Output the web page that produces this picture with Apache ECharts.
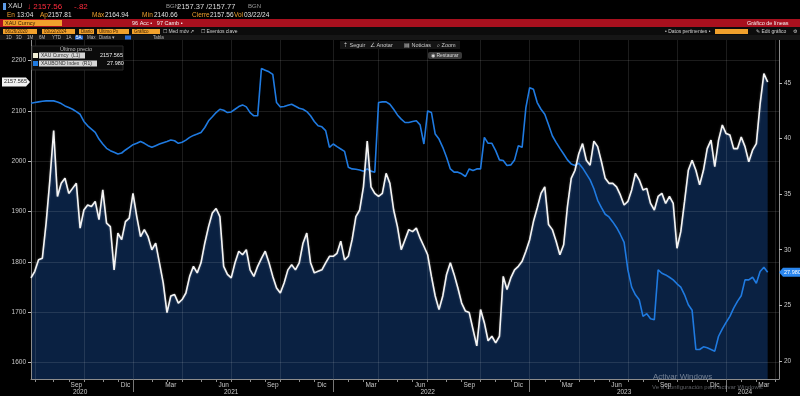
<!DOCTYPE html>
<html>
<head>
<meta charset="utf-8">
<script src="https://cdn.jsdelivr.net/npm/echarts@6/dist/echarts.min.js"></script>
<style>
html,body{margin:0;padding:0;background:#000;}
#chart{width:800px;height:396px;}
</style>
</head>
<body>
<div id="chart"></div>
<script>
// XAU Curncy, cierre semanal (L1)
let goldValues = [1768,1781,1804,1807,1877,1963,2061,1930,1956,1966,
    1936,1946,1956,1867,1903,1913,1910,1920,1884,1943,
    1877,1870,1784,1857,1844,1880,1887,1936,1890,1850,
    1864,1850,1824,1837,1798,1758,1699,1732,1735,1718,
    1725,1738,1771,1791,1778,1798,1837,1870,1897,1906,
    1890,1791,1775,1768,1798,1821,1814,1824,1784,1771,
    1791,1807,1821,1798,1771,1748,1738,1758,1784,1794,
    1784,1798,1837,1857,1798,1778,1781,1784,1798,1811,
    1811,1817,1841,1804,1811,1844,1890,1903,1949,2040,
    1949,1936,1930,1936,1976,1956,1903,1870,1824,1844,
    1864,1860,1867,1847,1831,1814,1771,1732,1705,1732,
    1775,1798,1775,1748,1718,1702,1699,1666,1633,1705,
    1679,1643,1652,1639,1652,1771,1745,1768,1784,1791,
    1801,1821,1844,1880,1907,1936,1949,1874,1864,1841,
    1814,1834,1910,1966,1982,2015,2035,2002,1992,2040,
    2029,1999,1966,1956,1956,1949,1933,1913,1920,1943,
    1976,1963,1943,1946,1916,1903,1930,1936,1916,1930,
    1916,1827,1860,1920,1982,2002,1982,1953,1982,2025,
    2042,1989,2042,2072,2055,2052,2025,2025,2048,2029,
    1999,2022,2035,2114,2174,2157.565];

// indice del eje derecho (R1)
let indexValues = [43.16,43.22,43.28,43.34,43.37,43.37,43.37,43.28,43.13,42.92,
    42.77,42.62,42.41,42.17,41.52,41.13,40.84,40.54,39.94,39.5,
    39.11,38.9,38.75,38.6,38.69,38.96,39.2,39.44,39.56,39.73,
    39.56,39.35,39.2,39.35,39.5,39.62,39.73,39.85,39.79,39.56,
    39.65,39.85,40.09,40.27,40.39,40.54,40.98,41.58,41.94,42.32,
    42.62,42.53,42.32,42.38,42.62,42.86,43.01,42.83,42.32,42.03,
    42.03,46.28,46.13,45.98,45.75,43.22,42.83,42.86,42.98,43.07,
    42.89,42.71,42.62,42.41,42.03,41.52,41.13,41.04,40.7,39.2,
    39.5,39.26,39.05,38.84,37.41,37.26,37.23,37.17,37.06,37.26,
    37.06,36.97,43.22,43.28,43.28,43.07,42.62,42.11,41.73,41.43,
    41.43,41.52,41.58,41.22,39.5,42.47,42.32,40.39,39.94,39.2,
    38.31,37.26,36.97,36.97,36.82,36.58,37.26,37.11,37.26,37.26,
    40.09,39.56,39.56,38.9,38.07,38.01,37.56,37.62,38.07,39.35,
    39.2,42.77,44.56,44.41,43.22,42.62,42.17,41.22,40.24,39.65,
    39.11,38.6,38.07,37.71,37.56,37.77,37.35,36.82,36.28,35.48,
    34.44,33.78,33.19,32.95,32.5,32.0,31.37,30.66,28.19,26.64,
    25.95,25.51,24.02,24.26,23.81,23.72,28.19,27.89,27.74,27.53,
    27.29,26.94,26.64,25.95,25.06,24.56,21.04,21.04,21.28,21.19,
    21.04,20.89,22.23,22.89,23.48,24.02,24.76,25.36,25.87,27.29,
    27.29,27.53,26.99,28.04,28.43,27.98];

let startDate = '2020-06-26';      // primer viernes
let padWeeks = 3;                  // semanas vacias a la derecha
let leftTicks = [1600,1700,1800,1900,2000,2100,2200];
let rightTicks = [20,25,30,35,40,45];
let monthNames = ['Ene','Feb','Mar','Abr','May','Jun','Jul','Ago','Sep','Oct','Nov','Dic'];
let labelMonths = [2,5,8,11];      // Mar, Jun, Sep, Dic
let gridMonths = [0,3,6,9];
let yearLabels = [['2020-09-25','2020'],['2021-07-02','2021'],['2022-07-01','2022'],['2023-06-30','2023'],['2024-02-09','2024']];

// categorias semanales
let weeks = [];
let t0 = Date.parse(startDate + 'T00:00:00Z');
for (let i = 0; i < goldValues.length + padWeeks; i++) {
    weeks.push(new Date(t0 + i * 7 * 86400000).toISOString().slice(0, 10));
}
let mon = v => +v.slice(5, 7) - 1, day = v => +v.slice(8, 10);
let isLabel = (i, v) => labelMonths.includes(mon(v)) && day(v) >= 12 && day(v) <= 18;
let isMonth = (i, v) => day(v) <= 7;
let isQuarter = (i, v) => gridMonths.includes(mon(v)) && day(v) <= 7;
let isYear = (i, v) => mon(v) === 0 && day(v) <= 7;
let yearMap = {};
yearLabels.forEach(d => yearMap[d[0]] = d[1]);

let FONT = '"Liberation Sans", Arial, sans-serif';
let ORANGE = '#f0a02c';
let txt = (x, y, s, color, size, extra) => ({
    type: 'text', x: x, y: y, silent: true, z: 20,
    style: Object.assign({text: s, fill: color, font: (size || 7) + 'px ' + FONT, verticalAlign: 'middle'}, extra || {})
});
let box = (x, y, w, h, color, r, stroke) => ({
    type: 'rect', silent: true, z: 19, shape: {x: x, y: y, width: w, height: h, r: r || 0},
    style: {fill: color, stroke: stroke || null, lineWidth: stroke ? 1 : 0}
});

let lastGold = goldValues[goldValues.length - 1];
let lastIdx = indexValues[indexValues.length - 1];

// cabecera tipo terminal
let elements = [
    box(3, 3, 3, 7, '#5c9be6'),
    txt(8, 6.5, 'XAU', '#d0d0d0', 7),
    txt(27, 6.5, '\u2193 2157.56', '#ff2b3d', 8),
    txt(74, 6.5, '-.82', '#ff2b3d', 8),
    txt(166, 6.5, 'BGN', '#9a9a9a', 6),
    txt(177, 6.5, '2157.37 /2157.77', '#d8d8d8', 7.5),
    txt(248, 6.5, 'BGN', '#9a9a9a', 6),

    txt(7, 15, 'En', ORANGE, 6.5), txt(17, 15, '13:04', '#e0e0e0', 6.5),
    txt(40, 15, 'Ap', ORANGE, 6.5), txt(48, 15, '2157.81', '#e0e0e0', 6.5),
    txt(92, 15, 'M\u00e1x', ORANGE, 6.5), txt(105, 15, '2164.94', '#e0e0e0', 6.5),
    txt(142, 15, 'M\u00edn', ORANGE, 6.5), txt(154, 15, '2140.66', '#e0e0e0', 6.5),
    txt(192, 15, 'Cierre', ORANGE, 6.5), txt(210, 15, '2157.56', '#e0e0e0', 6.5),
    txt(234, 15, 'Vol', ORANGE, 6.5), txt(244, 15, '03/22/24', '#e0e0e0', 6.5),

    box(0, 19, 800, 8, '#a8101e'),
    box(3, 20, 59, 6, ORANGE),
    txt(5, 23, 'XAU Curncy', '#3a2000', 5.5),
    txt(132, 23, '96 Acc \u2022   97 Camb \u2022', '#f0f0f0', 5.5),
    txt(747, 23, 'Gr\u00e1fico de l\u00edneas', '#f0f0f0', 5.5),

    box(0, 27, 800, 8, '#0c0c0c'),
    box(3, 29, 34, 5, ORANGE), txt(5, 31.5, '06/26/2020', '#3a2000', 4.5),
    box(42, 29, 33, 5, ORANGE), txt(44, 31.5, '03/22/2024', '#3a2000', 4.5),
    box(79, 29, 15, 5, ORANGE), txt(81, 31.5, 'Diario', '#3a2000', 4.5),
    box(97, 29, 32, 5, ORANGE), txt(99, 31.5, '\u00daltimo Px', '#3a2000', 4.5),
    box(132, 29, 28, 5, ORANGE), txt(134, 31.5, 'Gr\u00e1fico', '#3a2000', 4.5),
    txt(163, 31.5, '\u2610 Med m\u00f3v \u2197', '#cfcfcf', 5),
    txt(201, 31.5, '\u2610 Eventos clave', '#cfcfcf', 5),
    txt(665, 31.5, '\u2022 Datos pertinentes \u2022', '#cfcfcf', 5),
    box(715, 29, 33, 5, ORANGE),
    txt(756, 31.5, '\u270e Edit gr\u00e1fico', '#cfcfcf', 5),
    txt(793, 31.5, '\u2699', '#cfcfcf', 5),

    box(0, 35, 800, 5, '#161616'),
    txt(6, 37.5, '1D', '#bbbbbb', 4.5), txt(16, 37.5, '3D', '#bbbbbb', 4.5),
    txt(27, 37.5, '1M', '#bbbbbb', 4.5), txt(39, 37.5, '6M', '#bbbbbb', 4.5),
    txt(52, 37.5, 'YTD', '#bbbbbb', 4.5), txt(66, 37.5, '1A', '#bbbbbb', 4.5),
    box(75, 35.5, 8, 4, '#2c6fd6'), txt(76, 37.5, '5A', '#ffffff', 4.5),
    txt(87, 37.5, 'M\u00e1x', '#bbbbbb', 4.5), txt(99, 37.5, 'Diaria \u25be', '#bbbbbb', 4.5),
    box(125, 35.5, 6, 4, '#2c6fd6'),
    txt(153, 37.5, 'Tabla', '#bbbbbb', 4.5),

    // barra de herramientas sobre el grafico
    box(340, 41, 120, 8, '#141414'),
    txt(343, 45, '\u21e1 Seguir', '#cccccc', 5.5),
    txt(370, 45, '\u2220 Anotar', '#cccccc', 5.5),
    txt(404, 45, '\u25a4 Noticias', '#cccccc', 5.5),
    txt(437, 45, '\u2315 Zoom', '#cccccc', 5.5),
    box(428, 52, 34, 7, '#3a3a3a', 2),
    txt(431, 55.5, '\u25c9 Restaurar', '#dddddd', 5),

    // leyenda
    box(32, 46, 91, 24, '#0b0b0b', 0, '#2a2a2a'),
    txt(60, 49.5, '\u00daltimo precio', '#bdbdbd', 5.5),
    box(33, 53, 5, 5, '#f3f0d8'),
    box(39, 52.5, 46, 6, '#d6d6d6'),
    txt(41, 55.5, 'XAU Curncy  (L1)', '#333333', 5),
    txt(100, 55.5, lastGold.toFixed(3), '#eeeeee', 5.5),
    box(33, 61, 5, 5, '#1f7ae0'),
    box(39, 60.5, 58, 6, '#d6d6d6'),
    txt(41, 63.5, 'XAUBOND Index  (R1)', '#333333', 5),
    txt(107, 63.5, lastIdx.toFixed(3), '#eeeeee', 5.5),

    txt(653, 377, 'Activar Windows', 'rgba(200,205,215,0.55)', 8),
    txt(652, 387, 'Ve a Configuraci\u00f3n para activar Windows.', 'rgba(200,205,215,0.45)', 6)
];

let chart = echarts.init(document.getElementById('chart'), null, {renderer: 'canvas'});

let gridLine = {show: true, lineStyle: {color: 'rgba(255,255,255,0.11)', width: 1}};
let axisGray = {lineStyle: {color: '#8c8c8c', width: 1}};

let option = {
    backgroundColor: '#000',
    animation: false,
    textStyle: {fontFamily: FONT},
    grid: {left: 31, right: 21, top: 40, bottom: 15},
    xAxis: [{
        type: 'category', data: weeks, boundaryGap: false, position: 'bottom', z: 2,
        axisLine: axisGray,
        axisTick: {interval: isMonth, length: 3, lineStyle: {color: '#8c8c8c'}},
        axisLabel: {interval: isLabel, formatter: v => monthNames[mon(v)], color: '#c8c8c8', fontSize: 6.5, margin: 3},
        splitLine: Object.assign({interval: isQuarter}, gridLine)
    }, {
        type: 'category', data: weeks, boundaryGap: false, position: 'bottom', z: 2,
        axisLine: {show: false},
        axisTick: {interval: isYear, length: 13, lineStyle: {color: '#777'}},
        axisLabel: {interval: (i, v) => !!yearMap[v], formatter: v => yearMap[v] || '', color: '#c8c8c8', fontSize: 6.5, margin: 10},
        splitLine: {show: false}
    }],
    yAxis: [{
        type: 'value', position: 'left', min: 1567, max: 2241, z: 2,
        axisLine: Object.assign({show: true}, axisGray),
        axisTick: {show: true, customValues: leftTicks, length: 3, lineStyle: {color: '#bbbbbb'}},
        axisLabel: {customValues: leftTicks, formatter: v => String(v), color: '#c8c8c8', fontSize: 6.5, margin: 5},
        splitLine: Object.assign({customValues: leftTicks}, gridLine)
    }, {
        type: 'value', position: 'right', min: 18.39, max: 48.84, z: 2,
        axisLine: Object.assign({show: true}, axisGray),
        axisTick: {show: true, customValues: rightTicks, length: 3, lineStyle: {color: '#bbbbbb'}},
        axisLabel: {customValues: rightTicks, color: '#c8c8c8', fontSize: 6.5, margin: 5},
        splitLine: {show: false}
    }],
    series: [{
        name: 'relleno', type: 'line', data: goldValues, yAxisIndex: 0, z: 1, silent: true,
        showSymbol: false, lineStyle: {width: 0},
        areaStyle: {color: '#0a2142', opacity: 1, origin: 'start'}
    }, {
        name: 'XAUBOND Index', type: 'line', data: indexValues, yAxisIndex: 1, z: 3,
        showSymbol: false, lineStyle: {color: '#1f7ae0', width: 1.6}
    }, {
        name: 'XAU Curncy', type: 'line', data: goldValues, yAxisIndex: 0, z: 4,
        showSymbol: false, lineStyle: {color: '#f4f4f4', width: 1.6, shadowColor: 'rgba(255,255,255,0.35)', shadowBlur: 2}
    }],
    graphic: elements
};
chart.setOption(option, true);

// etiquetas del ultimo valor en los ejes
let yG = chart.convertToPixel({yAxisIndex: 0}, lastGold);
let yI = chart.convertToPixel({yAxisIndex: 1}, lastIdx);
elements.push({
    type: 'polygon', silent: true, z: 19,
    shape: {points: [[2, yG - 4.5], [26, yG - 4.5], [30, yG], [26, yG + 4.5], [2, yG + 4.5]]},
    style: {fill: '#f2f2f2'}
});
elements.push(txt(4, yG, lastGold.toFixed(3), '#222222', 5.5));
elements.push({
    type: 'polygon', silent: true, z: 19,
    shape: {points: [[779, yI], [783, yI - 4.5], [800, yI - 4.5], [800, yI + 4.5], [783, yI + 4.5]]},
    style: {fill: '#2a86ee'}
});
elements.push(txt(784, yI, lastIdx.toFixed(3), '#ffffff', 5.5));
chart.setOption({graphic: elements});
</script>
</body>
</html>
